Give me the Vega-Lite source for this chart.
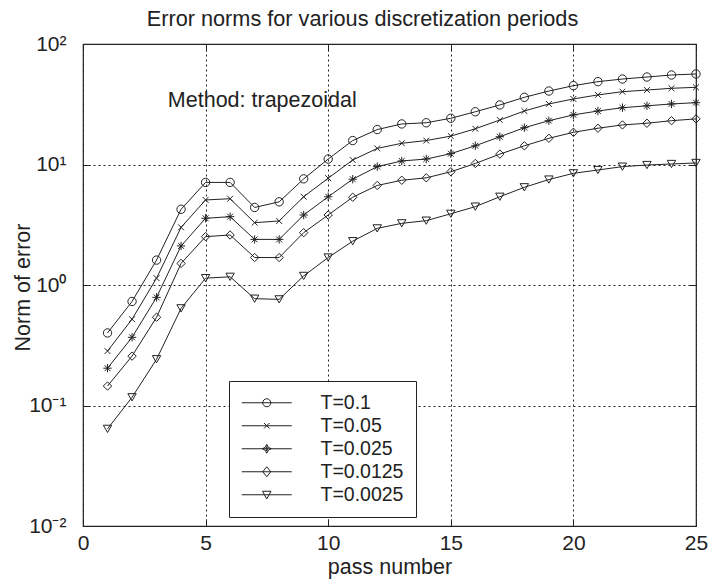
{
  "$schema": "https://vega.github.io/schema/vega-lite/v6.json",
  "width": 613,
  "height": 482,
  "autosize": {"type": "none"},
  "padding": {"left": 83, "top": 44, "right": 13, "bottom": 60},
  "title": {
    "text": "Error norms for various discretization periods",
    "anchor": "middle",
    "frame": "group",
    "baseline": "alphabetic",
    "offset": -15,
    "dx": -27,
    "font": "Liberation Sans",
    "fontSize": 21.7,
    "fontWeight": "normal",
    "color": "#222"
  },
  "config": {
    "view": {"stroke": "#222", "strokeWidth": 1.2},
    "axis": {
      "domain": false,
      "labelFont": "Liberation Sans",
      "labelFontSize": 21,
      "labelColor": "#222",
      "labelFlush": false,
      "labelOverlap": false,
      "titleFont": "Liberation Sans",
      "titleFontSize": 21.5,
      "titleFontWeight": "normal",
      "titleColor": "#222",
      "tickColor": "#222",
      "tickSize": -7,
      "tickWidth": 1,
      "gridColor": "#222",
      "gridDash": [2, 3],
      "gridWidth": 1,
      "gridOpacity": 1
    }
  },
  "data": {
    "values": [
      {"pass": 1, "T": "T=0.1", "err": 0.40}, {"pass": 2, "T": "T=0.1", "err": 0.73}, {"pass": 3, "T": "T=0.1", "err": 1.61}, {"pass": 4, "T": "T=0.1", "err": 4.25}, {"pass": 5, "T": "T=0.1", "err": 7.1},
      {"pass": 6, "T": "T=0.1", "err": 7.1}, {"pass": 7, "T": "T=0.1", "err": 4.4}, {"pass": 8, "T": "T=0.1", "err": 4.9}, {"pass": 9, "T": "T=0.1", "err": 7.6}, {"pass": 10, "T": "T=0.1", "err": 11.1},
      {"pass": 11, "T": "T=0.1", "err": 15.8}, {"pass": 12, "T": "T=0.1", "err": 19.5}, {"pass": 13, "T": "T=0.1", "err": 21.7}, {"pass": 14, "T": "T=0.1", "err": 22.2}, {"pass": 15, "T": "T=0.1", "err": 24.2},
      {"pass": 16, "T": "T=0.1", "err": 27.4}, {"pass": 17, "T": "T=0.1", "err": 31.2}, {"pass": 18, "T": "T=0.1", "err": 36.1}, {"pass": 19, "T": "T=0.1", "err": 40.7}, {"pass": 20, "T": "T=0.1", "err": 45.1},
      {"pass": 21, "T": "T=0.1", "err": 48.7}, {"pass": 22, "T": "T=0.1", "err": 51.2}, {"pass": 23, "T": "T=0.1", "err": 53.2}, {"pass": 24, "T": "T=0.1", "err": 55.3}, {"pass": 25, "T": "T=0.1", "err": 56.4},

      {"pass": 1, "T": "T=0.05", "err": 0.283}, {"pass": 2, "T": "T=0.05", "err": 0.52}, {"pass": 3, "T": "T=0.05", "err": 1.14}, {"pass": 4, "T": "T=0.05", "err": 3.01}, {"pass": 5, "T": "T=0.05", "err": 5.08},
      {"pass": 6, "T": "T=0.05", "err": 5.2}, {"pass": 7, "T": "T=0.05", "err": 3.29}, {"pass": 8, "T": "T=0.05", "err": 3.4}, {"pass": 9, "T": "T=0.05", "err": 5.4}, {"pass": 10, "T": "T=0.05", "err": 7.7},
      {"pass": 11, "T": "T=0.05", "err": 10.9}, {"pass": 12, "T": "T=0.05", "err": 13.6}, {"pass": 13, "T": "T=0.05", "err": 15.0}, {"pass": 14, "T": "T=0.05", "err": 15.8}, {"pass": 15, "T": "T=0.05", "err": 17.2},
      {"pass": 16, "T": "T=0.05", "err": 19.8}, {"pass": 17, "T": "T=0.05", "err": 23.4}, {"pass": 18, "T": "T=0.05", "err": 27.8}, {"pass": 19, "T": "T=0.05", "err": 31.8}, {"pass": 20, "T": "T=0.05", "err": 35.0},
      {"pass": 21, "T": "T=0.05", "err": 37.8}, {"pass": 22, "T": "T=0.05", "err": 40.2}, {"pass": 23, "T": "T=0.05", "err": 41.5}, {"pass": 24, "T": "T=0.05", "err": 42.9}, {"pass": 25, "T": "T=0.05", "err": 43.7},

      {"pass": 1, "T": "T=0.025", "err": 0.204}, {"pass": 2, "T": "T=0.025", "err": 0.368}, {"pass": 3, "T": "T=0.025", "err": 0.79}, {"pass": 4, "T": "T=0.025", "err": 2.11}, {"pass": 5, "T": "T=0.025", "err": 3.58},
      {"pass": 6, "T": "T=0.025", "err": 3.69}, {"pass": 7, "T": "T=0.025", "err": 2.39}, {"pass": 8, "T": "T=0.025", "err": 2.39}, {"pass": 9, "T": "T=0.025", "err": 3.81}, {"pass": 10, "T": "T=0.025", "err": 5.4},
      {"pass": 11, "T": "T=0.025", "err": 7.55}, {"pass": 12, "T": "T=0.025", "err": 9.6}, {"pass": 13, "T": "T=0.025", "err": 10.7}, {"pass": 14, "T": "T=0.025", "err": 11.1}, {"pass": 15, "T": "T=0.025", "err": 12.3},
      {"pass": 16, "T": "T=0.025", "err": 14.3}, {"pass": 17, "T": "T=0.025", "err": 17.0}, {"pass": 18, "T": "T=0.025", "err": 20.2}, {"pass": 19, "T": "T=0.025", "err": 23.1}, {"pass": 20, "T": "T=0.025", "err": 25.8},
      {"pass": 21, "T": "T=0.025", "err": 27.8}, {"pass": 22, "T": "T=0.025", "err": 29.6}, {"pass": 23, "T": "T=0.025", "err": 30.7}, {"pass": 24, "T": "T=0.025", "err": 31.8}, {"pass": 25, "T": "T=0.025", "err": 32.6},

      {"pass": 1, "T": "T=0.0125", "err": 0.145}, {"pass": 2, "T": "T=0.0125", "err": 0.257}, {"pass": 3, "T": "T=0.0125", "err": 0.54}, {"pass": 4, "T": "T=0.0125", "err": 1.51}, {"pass": 5, "T": "T=0.0125", "err": 2.52},
      {"pass": 6, "T": "T=0.0125", "err": 2.6}, {"pass": 7, "T": "T=0.0125", "err": 1.69}, {"pass": 8, "T": "T=0.0125", "err": 1.69}, {"pass": 9, "T": "T=0.0125", "err": 2.72}, {"pass": 10, "T": "T=0.0125", "err": 3.81},
      {"pass": 11, "T": "T=0.0125", "err": 5.35}, {"pass": 12, "T": "T=0.0125", "err": 6.7}, {"pass": 13, "T": "T=0.0125", "err": 7.4}, {"pass": 14, "T": "T=0.0125", "err": 7.75}, {"pass": 15, "T": "T=0.0125", "err": 8.7},
      {"pass": 16, "T": "T=0.0125", "err": 10.2}, {"pass": 17, "T": "T=0.0125", "err": 12.2}, {"pass": 18, "T": "T=0.0125", "err": 14.3}, {"pass": 19, "T": "T=0.0125", "err": 16.5}, {"pass": 20, "T": "T=0.0125", "err": 18.5},
      {"pass": 21, "T": "T=0.0125", "err": 20.0}, {"pass": 22, "T": "T=0.0125", "err": 21.3}, {"pass": 23, "T": "T=0.0125", "err": 22.0}, {"pass": 24, "T": "T=0.0125", "err": 23.1}, {"pass": 25, "T": "T=0.0125", "err": 23.9},

      {"pass": 1, "T": "T=0.0025", "err": 0.064}, {"pass": 2, "T": "T=0.0025", "err": 0.117}, {"pass": 3, "T": "T=0.0025", "err": 0.242}, {"pass": 4, "T": "T=0.0025", "err": 0.64}, {"pass": 5, "T": "T=0.0025", "err": 1.14},
      {"pass": 6, "T": "T=0.0025", "err": 1.17}, {"pass": 7, "T": "T=0.0025", "err": 0.77}, {"pass": 8, "T": "T=0.0025", "err": 0.76}, {"pass": 9, "T": "T=0.0025", "err": 1.19}, {"pass": 10, "T": "T=0.0025", "err": 1.69},
      {"pass": 11, "T": "T=0.0025", "err": 2.31}, {"pass": 12, "T": "T=0.0025", "err": 2.95}, {"pass": 13, "T": "T=0.0025", "err": 3.25}, {"pass": 14, "T": "T=0.0025", "err": 3.42}, {"pass": 15, "T": "T=0.0025", "err": 3.9},
      {"pass": 16, "T": "T=0.0025", "err": 4.47}, {"pass": 17, "T": "T=0.0025", "err": 5.4}, {"pass": 18, "T": "T=0.0025", "err": 6.47}, {"pass": 19, "T": "T=0.0025", "err": 7.5}, {"pass": 20, "T": "T=0.0025", "err": 8.45},
      {"pass": 21, "T": "T=0.0025", "err": 9.0}, {"pass": 22, "T": "T=0.0025", "err": 9.6}, {"pass": 23, "T": "T=0.0025", "err": 9.9}, {"pass": 24, "T": "T=0.0025", "err": 10.1}, {"pass": 25, "T": "T=0.0025", "err": 10.3}
    ]
  },
  "layer": [
    {
      "mark": {"type": "line", "color": "#222", "strokeWidth": 1},
      "encoding": {
        "x": {
          "field": "pass", "type": "quantitative",
          "scale": {"domain": [0, 25], "nice": false, "zero": false},
          "axis": {
            "orient": "bottom",
            "values": [0, 5, 10, 15, 20, 25],
            "grid": true,
            "labelPadding": 13,
            "title": "pass number",
            "titleY": 47,
            "titleBaseline": "alphabetic"
          }
        },
        "y": {
          "field": "err", "type": "quantitative",
          "scale": {"type": "log", "domain": [0.01, 100], "nice": false},
          "axis": {
            "orient": "left",
            "values": [0.01, 0.1, 1, 10, 100],
            "labelExpr": "datum.value >= 99 ? '10²' : datum.value >= 9 ? '10¹' : datum.value >= 0.9 ? '10⁰' : datum.value >= 0.09 ? '10⁻¹' : '10⁻²'",
            "labelBaseline": "middle",
            "labelPadding": 24,
            "grid": true,
            "title": "Norm of error",
            "titleX": -59.5,
            "titleY": 243,
            "titleAngle": -90,
            "titleAlign": "center",
            "titleBaseline": "middle"
          }
        },
        "detail": {"field": "T"}
      }
    },
    {
      "mark": {"type": "point", "filled": false, "stroke": "#222", "size": 70, "opacity": 1},
      "encoding": {
        "x": {
          "field": "pass", "type": "quantitative",
          "axis": {"orient": "top", "values": [0, 5, 10, 15, 20, 25], "labels": false, "grid": false, "title": null}
        },
        "y": {
          "field": "err", "type": "quantitative",
          "axis": {"orient": "right", "values": [0.01, 0.1, 1, 10, 100], "labels": false, "grid": false, "title": null}
        },
        "shape": {
          "field": "T", "type": "nominal",
          "scale": {
            "domain": ["T=0.1", "T=0.05", "T=0.025", "T=0.0125", "T=0.0025"],
            "range": [
              "circle",
              "M-0.7,-0.7L0.7,0.7M-0.7,0.7L0.7,-0.7",
              "M-1,0H1M0,-1V1M-0.7,-0.7L0.7,0.7M-0.7,0.7L0.7,-0.7",
              "diamond",
              "triangle-down"
            ]
          },
          "legend": null
        },
        "strokeWidth": {
          "field": "T", "type": "nominal",
          "scale": {"domain": ["T=0.1", "T=0.05", "T=0.025", "T=0.0125", "T=0.0025"], "range": [1, 1, 1.8, 1, 1]},
          "legend": null
        }
      }
    },
    {
      "description": "Legend key layer: the same points, drawn invisibly, carrying line-and-marker legend symbols",
      "mark": {"type": "point", "filled": false, "stroke": "#222", "strokeWidth": 1, "size": 100, "opacity": 0},
      "encoding": {
        "x": {"field": "pass", "type": "quantitative", "axis": null},
        "y": {"field": "err", "type": "quantitative", "axis": null},
        "shape": {
          "field": "T", "type": "nominal",
          "scale": {
            "domain": ["T=0.1", "T=0.05", "T=0.025", "T=0.0125", "T=0.0025"],
            "range": [
              "M-5,0H5M0.8,0A0.8,0.8,0,1,1,-0.8,0A0.8,0.8,0,1,1,0.8,0",
              "M-5,0H5M-0.55,-0.55L0.55,0.55M-0.55,0.55L0.55,-0.55",
              "M-5,0H5M0,-0.9L0.3,-0.3L0.9,0L0.3,0.3L0,0.9L-0.3,0.3L-0.9,0L-0.3,-0.3ZM0,-0.45L0.15,0L0,0.45L-0.15,0Z",
              "M-5,0H5M-0.8,0L0,-1L0.8,0L0,1Z",
              "M-5,0H5M-0.85,-0.7H0.85L0,0.85Z"
            ]
          },
          "legend": {
            "orient": "none",
            "legendX": 146,
            "legendY": 337,
            "title": null,
            "symbolSize": 100,
            "symbolOpacity": 1,
            "symbolOffset": 16,
            "symbolStrokeColor": "#222",
            "symbolStrokeWidth": 1,
            "labelOffset": 44,
            "labelFont": "Liberation Sans",
            "labelFontSize": 19.5,
            "labelColor": "#222",
            "rowPadding": 2,
            "padding": 12,
            "strokeColor": "#222",
            "fillColor": "white"
          }
        }
      }
    },
    {
      "data": {"values": [{"note": "Method: trapezoidal"}]},
      "mark": {"type": "text", "align": "left", "baseline": "alphabetic", "font": "Liberation Sans", "fontSize": 21.5, "color": "#222"},
      "encoding": {
        "x": {"datum": 3.46, "type": "quantitative", "axis": null},
        "y": {"datum": 30, "type": "quantitative", "axis": null},
        "text": {"field": "note"}
      }
    }
  ],
  "resolve": {
    "axis": {"x": "independent", "y": "independent"},
    "scale": {"shape": "independent"}
  }
}
